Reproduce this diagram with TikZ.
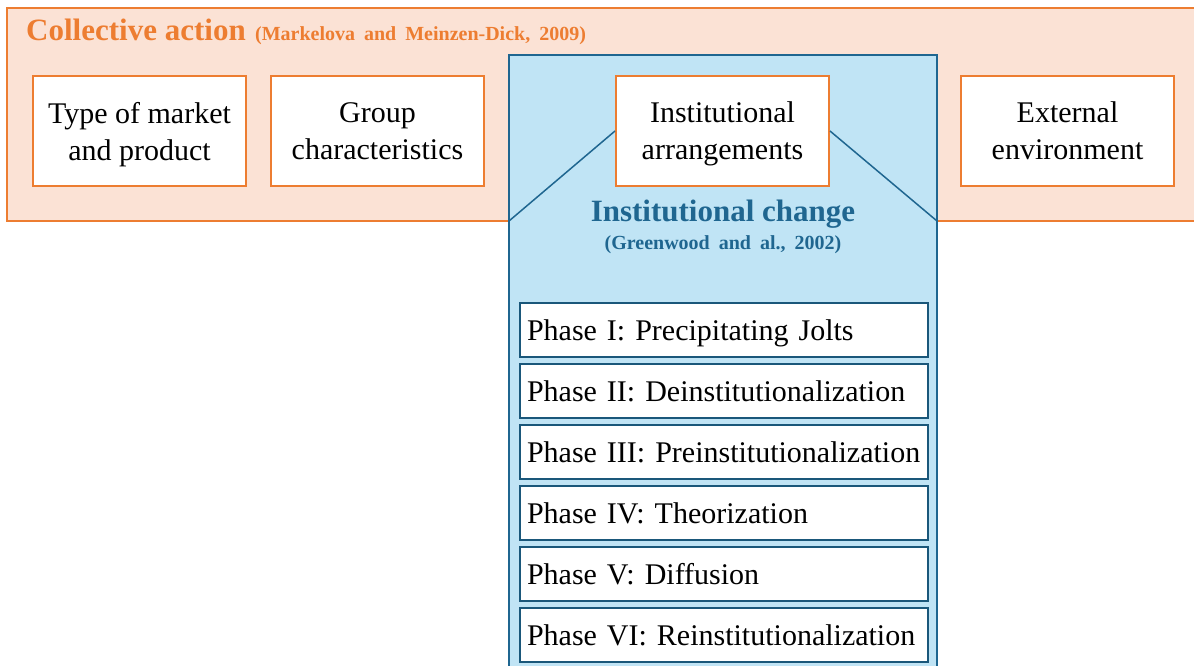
\documentclass[tikz,border=0pt]{standalone}
\usepackage{fontspec}
\setmainfont{Liberation Serif}
\usetikzlibrary{positioning}
\definecolor{caorange}{HTML}{ED7D31}
\definecolor{capeach}{HTML}{FBE2D5}
\definecolor{icblue}{HTML}{1F6690}
\definecolor{icsky}{HTML}{C0E4F5}
\newcommand{\boxfont}{\fontsize{30}{37}\selectfont}
\newcommand{\headfont}{\fontsize{31}{33}\selectfont\bfseries}
\newcommand{\citefont}{\fontsize{20}{22}\selectfont\bfseries\spaceskip=0.45em\relax}
\tikzset{factor/.style={rectangle,draw=caorange,line width=2pt,fill=white,minimum width=213pt,minimum height=110pt,inner sep=0pt,text depth=0pt,align=center,font=\boxfont}}
\tikzset{phasebox/.style={rectangle,draw=icblue!85!black,line width=2.5pt,fill=white,minimum height=54pt,text width=394pt,inner xsep=7pt,inner ysep=0pt,text depth=0pt,align=left,font=\boxfont}}
\begin{document}
\begin{tikzpicture}[x=1pt,y=-1pt]
\useasboundingbox (0,0) rectangle (1194,666);
% collective action band
\draw[caorange,fill=capeach,line width=1.5pt] (7,8) rectangle (1210,221);
% institutional change panel
\coordinate (pl) at (509,221);
\coordinate (pr) at (937,221);
\draw[icblue,fill=icsky,line width=1.5pt] (509,55) rectangle (937,680);
%
\node (ca) [anchor=base west,text=caorange,font=\headfont,inner sep=0pt] at (26,41) {Collective action};
\node (cacite) [anchor=base west,text=caorange,font=\citefont,inner sep=0pt] at ([xshift=9pt]ca.base east) {(Markelova and Meinzen-Dick, 2009)};
\node (market) [factor] at (139.5,131) {Type of market\\and product};
\node (group) [factor] at (377.5,131) {Group\\characteristics};
\node (arrange) [factor] at (722.5,131) {Institutional\\arrangements};
\node (external) [factor] at (1067.5,131) {External\\environment};
\draw[icblue,line width=1.5pt] (pl) -- (arrange.west);
\draw[icblue,line width=1.5pt] (arrange.east) -- (pr);
%
\node (ic) [anchor=base,text=icblue,font=\headfont,inner sep=0pt] at (723,221) {Institutional change};
\node (iccite) [anchor=base,text=icblue,font=\citefont,inner sep=0pt] at (723,249) {(Greenwood and al., 2002)};
%
\node (p1) [phasebox] at (724,330) {Phase I: Precipitating Jolts};
\node (p2) [phasebox,below=4.5pt of p1] {Phase II: Deinstitutionalization};
\node (p3) [phasebox,below=4.5pt of p2] {Phase III: Preinstitutionalization};
\node (p4) [phasebox,below=4.5pt of p3] {Phase IV: Theorization};
\node (p5) [phasebox,below=4.5pt of p4] {Phase V: Diffusion};
\node (p6) [phasebox,below=4.5pt of p5] {Phase VI: Reinstitutionalization};
\end{tikzpicture}
\end{document}
